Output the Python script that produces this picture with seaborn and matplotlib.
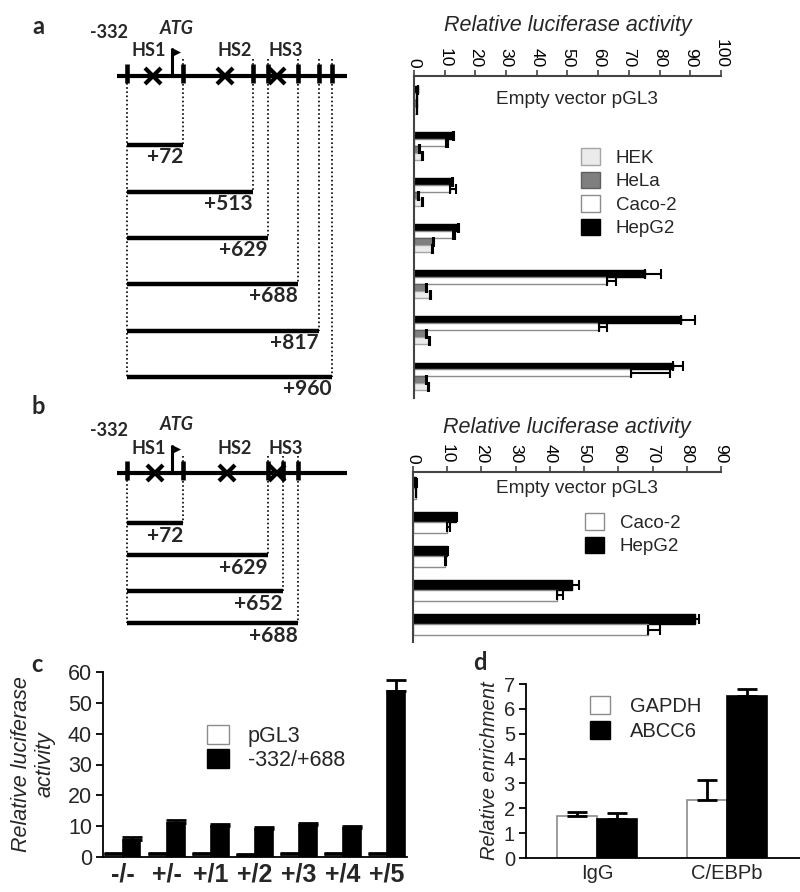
import matplotlib
matplotlib.use("Agg")
import matplotlib.pyplot as plt
import numpy as np
import pandas as pd
import seaborn as sns
from matplotlib.patches import Patch

# ---------------- data ----------------
# panel a
a_constructs = ["Empty vector pGL3", "+72", "+513", "+629", "+688", "+817", "+960"]
a_cells = ["HepG2", "Caco-2", "HeLa", "HEK"]
a_hepg2 = [1.2, 12.6, 12.3, 14.2, 75.2, 87.0, 84.3]
a_hepg2_err = [0.2, 0.4, 0.4, 0.4, 5.1, 4.5, 3.2]
a_caco2 = [1.0, 10.4, 11.7, 12.8, 62.8, 60.4, 70.7]
a_caco2_err = [0.1, 0.6, 2.0, 0.7, 2.9, 2.4, 12.7]
a_hela = [1.0, 1.6, 1.4, 6.1, 3.9, 3.9, 4.0]
a_hela_err = [0.1, 0.3, 0.3, 0.3, 0.3, 0.3, 0.3]
a_hek = [1.0, 2.5, 2.5, 6.0, 5.2, 5.0, 4.7]
a_hek_err = [0.1, 0.3, 0.3, 0.3, 0.3, 0.3, 0.3]

# panel b
b_constructs = ["Empty vector pGL3", "+72", "+629", "+652", "+688"]
b_cells = ["HepG2", "Caco-2"]
b_hepg2 = [1.0, 12.5, 9.8, 46.4, 82.5]
b_hepg2_err = [0.2, 0.5, 0.3, 2.2, 1.2]
b_caco2 = [0.8, 9.8, 9.3, 42.0, 68.6]
b_caco2_err = [0.1, 0.9, 0.3, 1.7, 3.7]

# panel c
c_groups = ["-/-", "+/-", "+/1", "+/2", "+/3", "+/4", "+/5"]
c_series = ["pGL3", "-332/+688"]
c_pgl3 = [1.1, 1.0, 1.1, 0.8, 1.0, 1.1, 1.1]
c_pgl3_err = [0.3, 0.3, 0.3, 0.3, 0.3, 0.3, 0.3]
c_full = [5.6, 11.1, 10.2, 9.2, 10.3, 9.5, 53.8]
c_full_err = [0.8, 0.9, 0.6, 0.5, 0.6, 0.5, 3.5]

# panel d
d_groups = ["IgG", "C/EBPb"]
d_series = ["GAPDH", "ABCC6"]
d_gapdh = [1.68, 2.35]
d_gapdh_err = [0.17, 0.80]
d_abcc6 = [1.55, 6.53]
d_abcc6_err = [0.26, 0.27]

# ---------------- style ----------------
sns.set_theme(style="white")
plt.rcParams["font.family"] = ["Liberation Sans", "DejaVu Sans"]
BOLDFAM = ["Lato", "Liberation Sans", "DejaVu Sans"]

W, H = 800, 892
fig = plt.figure(figsize=(W / 100, H / 100), dpi=100)

ov = fig.add_axes([0, 0, 1, 1])
ov.set_xlim(0, W)
ov.set_ylim(H, 0)
ov.axis("off")


def px_axes(left, top, right, bottom):
    ax = fig.add_axes([left / W, 1 - bottom / H, (right - left) / W, (bottom - top) / H])
    ax.set_facecolor("none")
    return ax


def long_df(cats, series, values, catname, sername):
    rows = []
    for s, vals in zip(series, values):
        for c, v in zip(cats, vals):
            rows.append({catname: c, sername: s, "value": v})
    return pd.DataFrame(rows)


# ---------------- horizontal panels (a, b) ----------------
def hpanel(ax, constructs, cells, values, errs, colors, edges, width, xmax, xstep, ylim,
           legend_anchor, label_x, title_y):
    df = long_df(constructs, cells, values, "construct", "cell")
    sns.barplot(data=df, x="value", y="construct", hue="cell", order=constructs,
                hue_order=cells, orient="h", palette=dict(zip(cells, colors)),
                width=width, saturation=1, errorbar=None, legend=False, ax=ax)
    for cont, err, ec in zip(ax.containers, errs, edges):
        for rect, e in zip(cont, err):
            rect.set_edgecolor(ec)
            rect.set_linewidth(1)
            yc = rect.get_y() + rect.get_height() / 2
            ax.errorbar(rect.get_width(), yc, xerr=[[0], [e]], fmt="none", ecolor="black",
                        elinewidth=1.5, capsize=3.5, capthick=1.5, zorder=4)
    ax.set_xlim(0, xmax)
    ax.set_ylim(*ylim)
    ax.set_xticks(np.arange(0, xmax + 1, xstep))
    ax.xaxis.tick_top()
    ax.xaxis.set_label_position("top")
    ax.tick_params(axis="x", top=True, bottom=False, rotation=-90, labelsize=12.5,
                   length=4, width=1.2, pad=2, color="#444", labelcolor="black")
    ax.tick_params(axis="y", left=False, labelleft=False)
    ax.set_ylabel("")
    ax.set_xlabel("Relative luciferase activity", fontsize=15.5, style="italic")
    ax.xaxis.label.set_va("center")
    ax.xaxis.set_label_coords(0.5, title_y)
    for side in ["bottom", "right"]:
        ax.spines[side].set_visible(False)
    for side in ["top", "left"]:
        ax.spines[side].set_color("#444")
        ax.spines[side].set_linewidth(1.5)
    ax.text(label_x, 0, constructs[0], ha="center", va="center", fontsize=13.7)
    handles = [Patch(facecolor=c, edgecolor=e, linewidth=1) for c, e in zip(colors, edges)][::-1]
    ax.legend(handles, cells[::-1], loc="upper left", bbox_to_anchor=legend_anchor,
              bbox_transform=ov.transData, frameon=False, fontsize=13.5,
              handlelength=1.0, handleheight=1.0, handletextpad=0.85,
              labelspacing=0.25, borderpad=0, borderaxespad=0)


ax_a = px_axes(414, 76, 721, 398)
hpanel(ax_a, a_constructs, a_cells,
       [a_hepg2, a_caco2, a_hela, a_hek],
       [a_hepg2_err, a_caco2_err, a_hela_err, a_hek_err],
       ["black", "white", "#7f7f7f", "#ebebeb"],
       ["black", "#8c8c8c", "#5f5f5f", "#a5a5a5"],
       0.6, 100, 10, (6.47, -0.52), (581, 148), 53, 1 + 51 / 322)

ax_b = px_axes(413, 472, 721, 642)
hpanel(ax_b, b_constructs, b_cells,
       [b_hepg2, b_caco2],
       [b_hepg2_err, b_caco2_err],
       ["black", "white"],
       ["black", "#8c8c8c"],
       0.62, 90, 10, (4.52, -0.47), (585, 513), 48, 1 + 45 / 170)


# ---------------- vertical panels (c, d) ----------------
def vpanel(ax, groups, series, values, errs, colors, edges, width, ylim, ystep, xlim,
           fs, legend_anchor, ylabel, labelpad, bold_x, lab_fs, hts, lsp):
    df = long_df(groups, series, values, "group", "series")
    sns.barplot(data=df, x="group", y="value", hue="series", order=groups,
                hue_order=series, palette=dict(zip(series, colors)), width=width,
                saturation=1, errorbar=None, legend=False, ax=ax)
    for cont, err, ec in zip(ax.containers, errs, edges):
        for rect, e in zip(cont, err):
            rect.set_edgecolor(ec)
            rect.set_linewidth(1.2)
            xc = rect.get_x() + rect.get_width() / 2
            ax.errorbar(xc, rect.get_height(), yerr=[[0], [e]], fmt="none", ecolor="black",
                        elinewidth=2, capsize=7, capthick=2, zorder=4)
    ax.set_ylim(*ylim)
    ax.set_xlim(*xlim)
    ax.set_yticks(np.arange(ylim[0], ylim[1] + 0.01, ystep))
    sns.despine(ax=ax)
    for side in ["left", "bottom"]:
        ax.spines[side].set_color("black")
        ax.spines[side].set_linewidth(1.3)
    ax.tick_params(axis="y", left=True, length=5, width=1.3, labelsize=fs, pad=3, color="black")
    ax.tick_params(axis="x", bottom=False, length=0, labelsize=lab_fs, pad=4)
    if bold_x:
        for lbl in ax.get_xticklabels():
            lbl.set_fontweight("bold")
    ax.set_xlabel("")
    ax.set_ylabel(ylabel, fontsize=fs, style="italic", labelpad=labelpad, linespacing=1.15)
    handles = [Patch(facecolor=c, edgecolor=e, linewidth=1) for c, e in zip(colors, edges)]
    ax.legend(handles, series, loc="upper left", bbox_to_anchor=legend_anchor,
              bbox_transform=ov.transData, frameon=False, fontsize=fs,
              handlelength=1.0, handleheight=1.0, handletextpad=hts,
              labelspacing=lsp, borderpad=0, borderaxespad=0)


ax_c = px_axes(103, 672, 407, 857)
vpanel(ax_c, c_groups, c_series, [c_pgl3, c_full], [c_pgl3_err, c_full_err],
       ["white", "black"], ["#8c8c8c", "black"], 0.8, (0, 60), 10, (-0.45, 6.45),
       15.5, (207, 725), "Relative luciferase\nactivity", 9, True, 18, 0.9, 0.1)

ax_d = px_axes(526, 684, 800, 858)
vpanel(ax_d, d_groups, d_series, [d_gapdh, d_abcc6], [d_gapdh_err, d_abcc6_err],
       ["white", "black"], ["#8c8c8c", "black"], 0.62, (0, 7), 1, (-0.546, 1.56),
       14.5, (590, 696), "Relative enrichment", 3, False, 14.5, 1.0, 0.25)


# ---------------- schematic diagrams (a, b) ----------------
def draw_diagram(y0, tick_xs, xmark_xs, flag_x, bar_ys, end_labels, label_dy, texts):
    ov.plot([117, 347], [y0, y0], color="black", lw=3, solid_capstyle="butt")
    for tx in tick_xs:
        ov.plot([tx, tx], [y0 - 12, y0 + 7], color="black", lw=3.3, solid_capstyle="butt")
    ov.plot([tick_xs[0]] * 2, [y0 + 7, bar_ys[-1]], color="black", lw=1.2, ls=(0, (1, 1.5)))
    for tx, by, lab in zip(tick_xs[1:], bar_ys, end_labels):
        ov.plot([tx, tx], [y0 - 17, by], color="black", lw=1.2, ls=(0, (1, 1.5)))
        ov.plot([tick_xs[0], tx], [by, by], color="black", lw=3.2, solid_capstyle="butt")
        ov.text(tx, by + label_dy, lab, ha="right", va="center", fontsize=15,
                fontweight="bold", family=BOLDFAM)
    ov.plot(xmark_xs, [y0] * len(xmark_xs), "x", color="black", ms=11, mew=3)
    ov.plot([flag_x, flag_x], [y0, y0 - 28], color="black", lw=2.2, solid_capstyle="butt")
    ov.fill([flag_x, flag_x + 9, flag_x], [y0 - 28, y0 - 23.5, y0 - 19], color="black", lw=0)
    for (tx, ty, s, st) in texts:
        ov.text(tx, ty, s, ha="center", va="center", fontsize=13, fontweight="bold",
                style=st, family=BOLDFAM)


draw_diagram(76, [127, 183, 253, 268, 298, 319, 332], [153, 225, 277], 172,
             [145, 192, 238, 284, 331, 377], a_constructs[1:], 12,
             [(109, 33, "-332", "normal"), (177, 28, "ATG", "italic"),
              (149, 51, "HS1", "normal"), (235, 51, "HS2", "normal"),
              (286, 51, "HS3", "normal")])

draw_diagram(473, [127, 183, 268, 283, 298], [155, 227, 277], 172,
             [523, 555, 591, 623], b_constructs[1:], 13.5,
             [(109, 430, "-332", "normal"), (177, 424, "ATG", "italic"),
              (149, 448, "HS1", "normal"), (235, 448, "HS2", "normal"),
              (286, 448, "HS3", "normal")])

for (lx, ly, s) in [(38, 27, "a"), (38, 407, "b"), (37, 665, "c"), (480, 662, "d")]:
    ov.text(lx, ly, s, ha="center", va="center", fontsize=17, fontweight="bold",
            family=BOLDFAM)

fig.savefig("out.png", dpi=100)
